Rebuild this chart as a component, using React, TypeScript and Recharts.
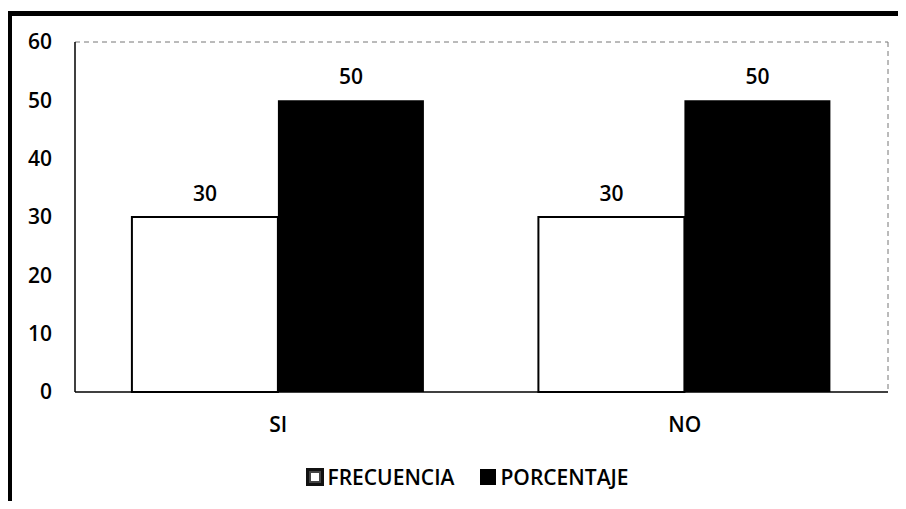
import React from "react";
import { BarChart, Bar, XAxis, YAxis, Legend, LabelList } from "recharts";

const categories = ["SI", "NO"];
const frecuencia = [30, 30];
const porcentaje = [50, 50];
const yTicks = [0, 10, 20, 30, 40, 50, 60];

const data = categories.map((c, i) => ({
  name: c,
  FRECUENCIA: frecuencia[i],
  PORCENTAJE: porcentaje[i],
}));

const FONT = "'Open Sans', 'Noto Sans', sans-serif";
const FS = 21;
const FW = 600;

const LegendContent = () => (
  <div
    style={{
      height: 30,
      display: "flex",
      justifyContent: "center",
      alignItems: "center",
      fontFamily: FONT,
      fontSize: FS,
      fontWeight: FW,
      color: "#000",
      gap: 26,
      paddingLeft: 46,
    }}
  >
    <div style={{ display: "flex", alignItems: "center", gap: 3 }}>
      <span
        style={{
          display: "inline-block",
          width: 12,
          height: 12,
          border: "3px solid #111",
          background: "#fff",
          boxShadow: "inset 0 0 0 2px #444",
        }}
      />
      <span>FRECUENCIA</span>
    </div>
    <div style={{ display: "flex", alignItems: "center", gap: 4 }}>
      <span style={{ display: "inline-block", width: 16, height: 16, background: "#000" }} />
      <span>PORCENTAJE</span>
    </div>
  </div>
);

export default function App() {
  return (
    <div style={{ position: "relative", width: 906, height: 509, margin: -8, background: "#fff", overflow: "hidden" }}>
      <div
        style={{
          position: "absolute",
          left: 7,
          top: 11,
          width: 930,
          height: 560,
          borderTop: "5px solid #000",
          borderLeft: "5px solid #000",
        }}
      />
      <div style={{ position: "absolute", left: 0, top: 0 }}>
        <BarChart
          width={906}
          height={509}
          data={data}
          margin={{ top: 41, right: 17, left: 0, bottom: 17 }}
          barCategoryGap="14%"
          barGap={0}
        >
          <XAxis
            dataKey="name"
            height={70}
            tickLine={false}
            tickMargin={19}
            axisLine={{ stroke: "#000", strokeWidth: 1.5 }}
            tick={{ fill: "#000", fontSize: FS, fontWeight: FW, fontFamily: FONT }}
          />
          <XAxis
            xAxisId="top"
            dataKey="name"
            orientation="top"
            height={1}
            tick={false}
            tickLine={false}
            axisLine={{ stroke: "#777", strokeDasharray: "5 4" }}
          />
          <YAxis
            domain={[0, 60]}
            ticks={yTicks}
            width={75}
            tickLine={false}
            tickMargin={17}
            interval={0}
            axisLine={{ stroke: "#000", strokeWidth: 1.5 }}
            tick={{ fill: "#000", fontSize: FS, fontWeight: FW, fontFamily: FONT }}
          />
          <YAxis
            yAxisId="right"
            orientation="right"
            domain={[0, 60]}
            width={1}
            tick={false}
            tickLine={false}
            axisLine={{ stroke: "#777", strokeDasharray: "5 4" }}
          />
          <Legend verticalAlign="bottom" content={<LegendContent />} />
          <Bar dataKey="FRECUENCIA" fill="#fff" stroke="#000" strokeWidth={2} isAnimationActive={false}>
            <LabelList
              dataKey="FRECUENCIA"
              position="top"
              offset={16}
              style={{ fill: "#000", fontSize: FS, fontWeight: FW, fontFamily: FONT }}
            />
          </Bar>
          <Bar dataKey="PORCENTAJE" fill="#000" isAnimationActive={false}>
            <LabelList
              dataKey="PORCENTAJE"
              position="top"
              offset={16}
              style={{ fill: "#000", fontSize: FS, fontWeight: FW, fontFamily: FONT }}
            />
          </Bar>
        </BarChart>
      </div>
    </div>
  );
}
